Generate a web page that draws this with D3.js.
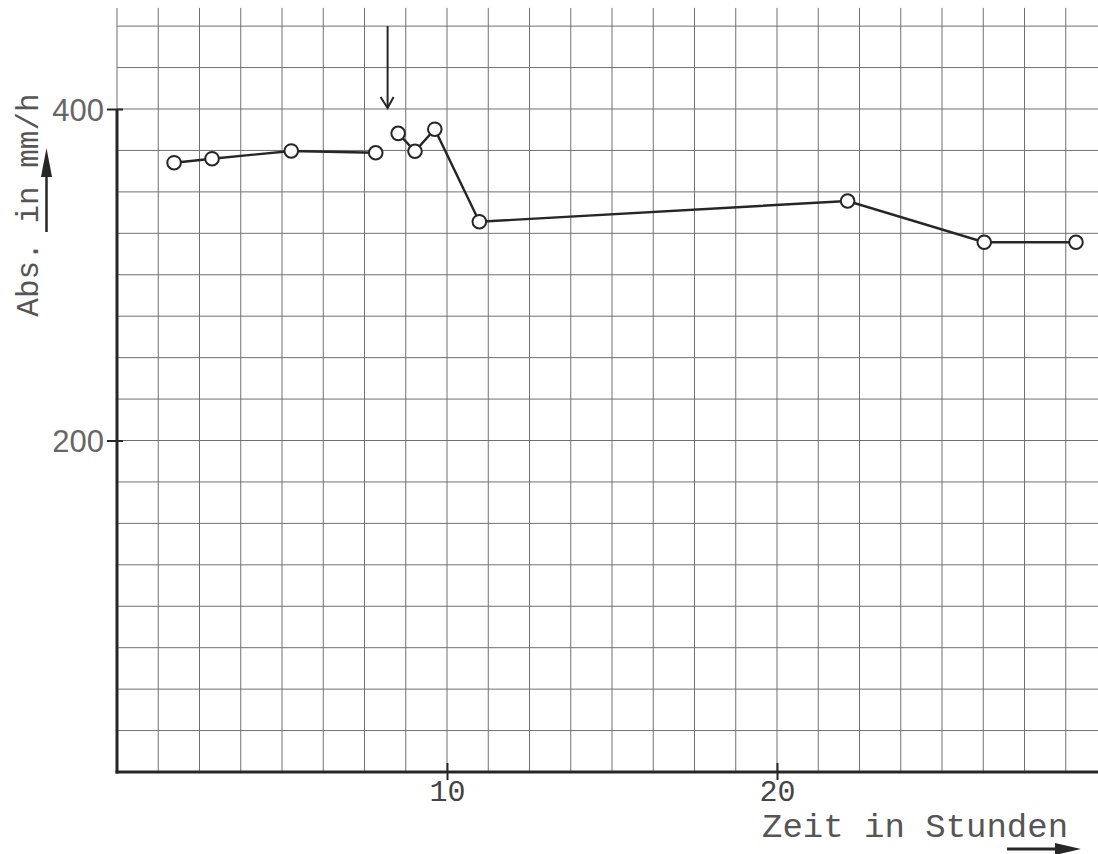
<!DOCTYPE html>
<html>
<head>
<meta charset="utf-8">
<script src="https://cdn.jsdelivr.net/npm/d3@7"></script>
<style>
  body { margin: 0; background: #fff; }
  svg { display: block; }
</style>
</head>
<body>
<div id="viz"></div>
<script>
var hoursBefore = [1.73, 2.88, 5.28, 7.84];
var absBefore = [367.6, 370.0, 374.7, 373.6];
var hoursAfter = [8.52, 9.03, 9.63, 10.98, 22.14, 26.28, 29.06];
var absAfter = [385.3, 374.5, 387.8, 332.0, 344.5, 319.6, 319.6];

var xTickValues = [10, 20];
var yTickValues = [200, 400];
var markerHour = 8.2; // the arrow at the top (addition time)

var xLabel = "Zeit in Stunden";
var yLabel = "Abs. in mm/h";

var width = 1098, height = 854;
var margin = { left: 117, bottom: 82 };

var svg = d3.select("#viz")
    .append("svg")
    .attr("width", width)
    .attr("height", height);

var x = d3.scaleLinear()
    .domain([0, 10])
    .range([margin.left, margin.left + 330]);

var y = d3.scaleLinear()
    .domain([0, 400])
    .range([height - margin.bottom, 109]);

var ink = "#262626";
var gridColor = "#707070";

// graph paper
var xMax = x.invert(width);
var vLines = d3.range(0, xMax, 1.25);
var hLines = d3.range(25, 451, 25);

svg.append("g")
    .selectAll("line")
    .data(vLines)
    .enter()
    .append("line")
    .attr("x1", function (d) { return x(d); })
    .attr("x2", function (d) { return x(d); })
    .attr("y1", y(0))
    .attr("y2", y(461))
    .attr("stroke", gridColor)
    .attr("stroke-width", 1);

svg.append("g")
    .selectAll("line")
    .data(hLines)
    .enter()
    .append("line")
    .attr("x1", x(0))
    .attr("x2", width)
    .attr("y1", function (d) { return y(d); })
    .attr("y2", function (d) { return y(d); })
    .attr("stroke", gridColor)
    .attr("stroke-width", 1);

// axes
var yAxis = svg.append("g")
    .attr("transform", "translate(" + x(0) + ",0)")
    .call(d3.axisLeft(y).tickValues(yTickValues).tickSize(10).tickSizeOuter(0));
yAxis.select(".domain").remove();
yAxis.selectAll(".tick line")
    .attr("x1", -10).attr("x2", 6)
    .attr("stroke", ink).attr("stroke-width", 2);
yAxis.selectAll(".tick text")
    .attr("x", -13)
    .attr("dy", "0.36em")
    .style("font-family", "'Liberation Sans', Arial, sans-serif")
    .style("font-size", "31px")
    .style("fill", "#666");

svg.append("line")
    .attr("x1", x(0)).attr("x2", x(0))
    .attr("y1", y(400)).attr("y2", y(0) + 1.5)
    .attr("stroke", ink).attr("stroke-width", 3);

var xAxis = svg.append("g")
    .attr("transform", "translate(0," + y(0) + ")")
    .call(d3.axisBottom(x).tickValues(xTickValues).tickSize(8).tickSizeOuter(0));
xAxis.select(".domain").remove();
xAxis.selectAll(".tick line")
    .attr("y1", -9).attr("y2", 8)
    .attr("stroke", ink).attr("stroke-width", 2);
xAxis.selectAll(".tick text")
    .attr("y", 29)
    .attr("dy", 0)
    .style("font-family", "'Liberation Mono', 'DejaVu Sans Mono', monospace")
    .style("font-size", "30px")
    .style("fill", "#444");

svg.append("line")
    .attr("x1", x(0) - 1.5).attr("x2", width)
    .attr("y1", y(0)).attr("y2", y(0))
    .attr("stroke", ink).attr("stroke-width", 3);

// axis titles
svg.append("text")
    .attr("transform", "translate(38," + 205 + ") rotate(-90)")
    .style("text-anchor", "middle")
    .style("font-family", "'Liberation Mono', 'DejaVu Sans Mono', monospace")
    .style("font-size", "31px")
    .style("fill", "#555")
    .text(yLabel);

svg.append("text")
    .attr("x", 762)
    .attr("y", 837)
    .style("font-family", "'Liberation Mono', 'DejaVu Sans Mono', monospace")
    .style("font-size", "34px")
    .style("fill", "#555")
    .text(xLabel);

// little direction arrows next to the titles
svg.append("line")
    .attr("x1", 46.5).attr("x2", 46.5)
    .attr("y1", 232).attr("y2", 170)
    .attr("stroke", ink).attr("stroke-width", 2.5);
svg.append("path")
    .attr("d", "M46.5,148 L41,177 L52,177 Z")
    .attr("fill", ink);

svg.append("line")
    .attr("x1", 1007).attr("x2", 1060)
    .attr("y1", 849).attr("y2", 849)
    .attr("stroke", ink).attr("stroke-width", 3);
svg.append("path")
    .attr("d", "M1081,849 L1055,843 L1055,855 Z")
    .attr("fill", ink);

// arrow marking the addition
var mx = x(markerHour);
svg.append("line")
    .attr("x1", mx).attr("x2", mx)
    .attr("y1", y(450)).attr("y2", y(400) - 1)
    .attr("stroke", ink).attr("stroke-width", 2);
svg.append("path")
    .attr("d", "M" + (mx - 7) + "," + (y(400) - 12) + " L" + mx + "," + (y(400) - 1) + " L" + (mx + 6) + "," + (y(400) - 12))
    .attr("fill", "none")
    .attr("stroke", ink)
    .attr("stroke-width", 2);

// data lines and circles
var line = d3.line()
    .x(function (d) { return x(d[0]); })
    .y(function (d) { return y(d[1]); });

var series = [d3.zip(hoursBefore, absBefore), d3.zip(hoursAfter, absAfter)];

series.forEach(function (pts) {
    svg.append("path")
        .datum(pts)
        .attr("d", line)
        .attr("fill", "none")
        .attr("stroke", ink)
        .attr("stroke-width", 2.4);

    svg.append("g")
        .selectAll("circle")
        .data(pts)
        .enter()
        .append("circle")
        .attr("cx", function (d) { return x(d[0]); })
        .attr("cy", function (d) { return y(d[1]); })
        .attr("r", 6.8)
        .attr("fill", "#fff")
        .attr("stroke", ink)
        .attr("stroke-width", 2);
});
</script>
</body>
</html>
